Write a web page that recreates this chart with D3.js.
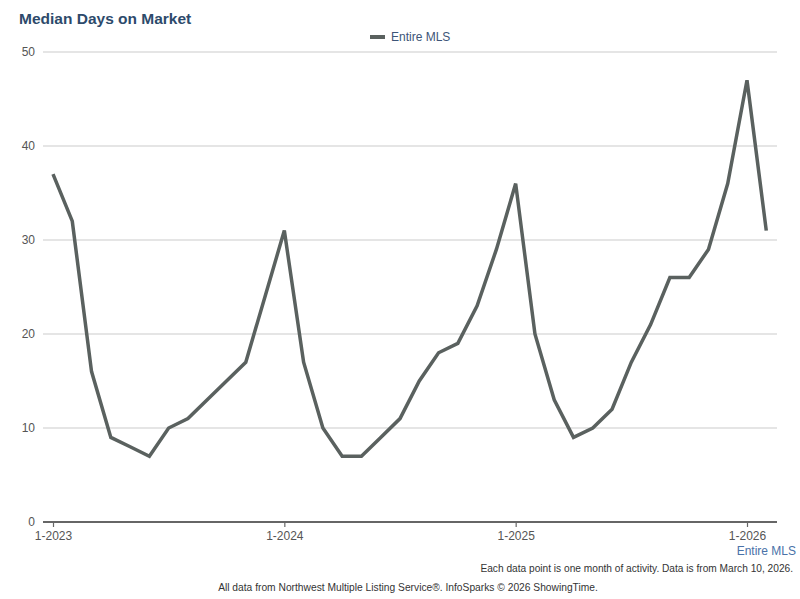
<!DOCTYPE html>
<html><head><meta charset="utf-8">
<script src="https://cdn.jsdelivr.net/npm/d3@7"></script>
<style>
body{margin:0;background:#fff;}
svg{display:block;font-family:"Liberation Sans",Arial,Helvetica,sans-serif;}
</style></head>
<body>
<svg id="chart" width="800" height="599"></svg>
<script>
const months = ["1-2023","2-2023","3-2023","4-2023","5-2023","6-2023","7-2023","8-2023","9-2023","10-2023","11-2023","12-2023",
"1-2024","2-2024","3-2024","4-2024","5-2024","6-2024","7-2024","8-2024","9-2024","10-2024","11-2024","12-2024",
"1-2025","2-2025","3-2025","4-2025","5-2025","6-2025","7-2025","8-2025","9-2025","10-2025","11-2025","12-2025",
"1-2026","2-2026"];
const values = [37,32,16,9,8,7,10,11,13,15,17,24,
31,17,10,7,7,9,11,15,18,19,23,29,
36,20,13,9,10,12,17,21,26,26,29,36,
47,31];
const xTickLabels = ["1-2023","1-2024","1-2025","1-2026"];
const yTicks = [0,10,20,30,40,50];
const seriesName = "Entire MLS";

const svg = d3.select("#chart");
const x = d3.scaleLinear().domain([0,36]).range([53,747]);
const y = d3.scaleLinear().domain([0,50]).range([522,52]);
const left = 43, right = 777;

// gridlines
svg.append("g").selectAll("line").data(yTicks.filter(d=>d>0)).join("line")
  .attr("x1",left).attr("x2",right)
  .attr("y1",d=>y(d)).attr("y2",d=>y(d))
  .attr("stroke","#cccccc").attr("stroke-width",1.2);

// y labels
svg.append("g").selectAll("text").data(yTicks).join("text")
  .attr("x",35).attr("y",d=>y(d)+4)
  .attr("text-anchor","end").attr("font-size",12).attr("fill","#555")
  .text(d=>d);

// x axis
const xTickIdx = xTickLabels.map(l=>months.indexOf(l));
const xAxis = d3.axisBottom(x).tickValues(xTickIdx)
  .tickFormat(d=>months[d]).tickSize(5).tickSizeOuter(0).tickPadding(4);
const gx = svg.append("g").attr("transform",`translate(0,${y(0)})`).call(xAxis);
gx.select(".domain").remove();
gx.selectAll(".tick line").attr("stroke","#666").attr("stroke-width",1.2);
gx.selectAll(".tick text").attr("font-size",12).attr("fill","#555")
  .attr("font-family","Liberation Sans, Arial, sans-serif");
svg.append("line").attr("x1",left).attr("x2",right)
  .attr("y1",y(0)).attr("y2",y(0)).attr("stroke","#666").attr("stroke-width",2);

// line
const line = d3.line().x((d,i)=>x(i)).y(d=>y(d));
svg.append("path").datum(values).attr("d",line)
  .attr("fill","none").attr("stroke","#5a615f").attr("stroke-width",3.5)
  .attr("stroke-linejoin","miter").attr("stroke-linecap","butt");

// title
svg.append("text").attr("x",19).attr("y",24).attr("font-size",15.5).attr("font-weight","bold")
  .attr("fill","#2d4a6b").text("Median Days on Market");

// legend
svg.append("line").attr("x1",370).attr("x2",385).attr("y1",37).attr("y2",37)
  .attr("stroke","#5a615f").attr("stroke-width",4);
svg.append("text").attr("x",391).attr("y",41).attr("font-size",12).attr("fill","#3d5578").text(seriesName);

// bottom labels
svg.append("text").attr("x",796).attr("y",555).attr("text-anchor","end").attr("font-size",12)
  .attr("fill","#4a72a8").text(seriesName);

function narrowText(txt, tx, ty, anchor, target){
  const g = svg.append("g");
  const t = g.append("text").attr("x",0).attr("y",0).attr("text-anchor",anchor)
    .attr("font-size",11).attr("fill","#333").text(txt);
  const w = t.node().getComputedTextLength();
  const s = Math.min(1, target / w);
  g.attr("transform",`translate(${tx},${ty}) scale(${s},1)`);
}
narrowText("Each data point is one month of activity. Data is from March 10, 2026.", 793, 572, "end", 313);
narrowText("All data from Northwest Multiple Listing Service®. InfoSparks © 2026 ShowingTime.", 408, 591, "middle", 380);
</script>
</body></html>
